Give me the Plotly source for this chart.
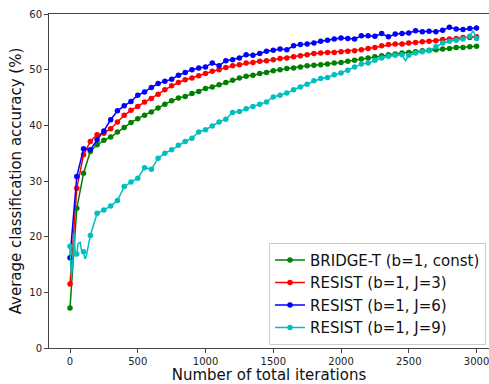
import plotly.graph_objects as go

ITER = list(range(0, 3001, 50))

BRIDGE_T = [7.2, 25.1, 31.4, 35.3, 36.5, 37.3, 37.9, 38.8, 39.6, 40.5,
            41.2, 41.8, 42.4, 43.1, 43.8, 44.4, 44.9, 45.2, 45.7, 46.1,
            46.6, 46.9, 47.3, 47.7, 48.1, 48.5, 48.8, 49.0, 49.3, 49.5,
            49.8, 50.0, 50.2, 50.3, 50.5, 50.7, 50.8, 50.9, 51.0, 51.2,
            51.3, 51.5, 51.7, 51.9, 52.1, 52.3, 52.5, 52.7, 52.8, 53.0,
            53.1, 53.2, 53.4, 53.5, 53.6, 53.7, 53.8, 54.0, 54.0, 54.1, 54.2]

RESIST_J3 = [11.5, 28.7, 34.7, 37.1, 38.3, 38.6, 39.4, 40.6, 41.8, 42.7,
             43.4, 44.2, 44.8, 45.6, 46.4, 47.1, 47.7, 48.2, 48.5, 48.9,
             49.3, 49.7, 50.0, 50.4, 50.7, 50.9, 51.2, 51.3, 51.5, 51.6,
             51.8, 52.0, 52.1, 52.3, 52.5, 52.7, 52.9, 53.0, 53.1, 53.1,
             53.2, 53.3, 53.4, 53.6, 53.8, 54.0, 54.3, 54.5, 54.6, 54.6,
             54.8, 54.9, 55.0, 55.1, 55.2, 55.4, 55.5, 55.6, 55.8, 55.8, 55.9]

RESIST_J6 = [16.2, 30.8, 35.8, 35.6, 37.4, 39.0, 41.0, 42.6, 43.5, 44.3,
             45.4, 46.0, 46.8, 47.5, 47.9, 48.3, 49.0, 49.5, 50.0, 50.3,
             50.5, 51.2, 50.7, 51.6, 51.8, 52.1, 52.7, 52.6, 52.9, 53.3,
             53.5, 53.7, 53.6, 54.3, 54.5, 54.6, 54.8, 55.1, 55.3, 55.5,
             55.7, 55.6, 55.5, 56.1, 56.1, 56.0, 56.5, 55.9, 56.4, 56.5,
             56.6, 57.0, 56.8, 56.9, 56.8, 57.1, 57.6, 57.3, 57.2, 57.4, 57.5]

RESIST_J9 = [18.3, 16.9, 17.3, 20.2, 24.2, 24.8, 25.5, 26.5, 29.0, 29.8,
             30.5, 32.4, 32.1, 34.1, 35.0, 35.6, 36.4, 37.1, 37.7, 38.8,
             39.2, 39.9, 40.6, 41.1, 42.3, 42.5, 43.0, 43.4, 43.8, 44.2,
             45.1, 45.4, 45.8, 46.4, 46.9, 47.4, 48.0, 48.4, 48.6, 49.1,
             49.4, 49.9, 50.5, 51.0, 51.2, 51.7, 52.1, 52.4, 52.6, 52.7,
             52.6, 53.0, 53.2, 53.4, 54.1, 54.8, 55.1, 55.3, 55.5, 56.0, 55.6]

# intermediate (unmarked) points of the J=9 run
J9_EXTRA_X = [10, 20, 30, 40, 60, 75, 85, 110, 120, 2475, 2975]
J9_EXTRA_Y = [13.0, 15.0, 20.6, 16.5, 18.8, 19.0, 17.5, 16.0, 16.5, 51.6, 57.0]

NAMES = ["BRIDGE-T (b=1, const)", "RESIST (b=1, J=3)",
         "RESIST (b=1, J=6)", "RESIST (b=1, J=9)"]
COLORS = ["#008000", "#ff0000", "#0000ff", "#00bfbf"]

MS = 5.5
fig = go.Figure()

series = [BRIDGE_T, RESIST_J3, RESIST_J6, RESIST_J9]
for i, (vals, name, col) in enumerate(zip(series, NAMES, COLORS)):
    if i < 3:
        fig.add_trace(go.Scatter(x=ITER, y=vals, name=name, mode="lines+markers",
                                 line=dict(color=col, width=1.5),
                                 marker=dict(color=col, size=MS)))
    else:
        pts = sorted(list(zip(ITER, vals)) + list(zip(J9_EXTRA_X, J9_EXTRA_Y)))
        fig.add_trace(go.Scatter(x=[p[0] for p in pts], y=[p[1] for p in pts],
                                 mode="lines", line=dict(color=col, width=1.5),
                                 showlegend=False, hoverinfo="skip"))
        fig.add_trace(go.Scatter(x=ITER, y=vals, mode="markers", name=name,
                                 marker=dict(color=col, size=MS), showlegend=False))
        fig.add_trace(go.Scatter(x=[None], y=[None], name=name, mode="lines+markers",
                                 line=dict(color=col, width=1.5),
                                 marker=dict(color=col, size=MS)))

axis_common = dict(showgrid=False, zeroline=False, showline=True,
                   linecolor="#444", linewidth=1, ticks="outside", ticklen=4,
                   tickcolor="#444", tickfont=dict(size=10, color="#222"),
                   ticklabeloverflow="allow")

fig.update_layout(
    width=489, height=384,
    margin=dict(l=49, r=0, t=14, b=36),
    paper_bgcolor="white", plot_bgcolor="white",
    font=dict(family="DejaVu Sans", color="#111"),
    xaxis=dict(range=[-155, 3092], tickvals=[0, 500, 1000, 1500, 2000, 2500, 3000],
               mirror=True,
               title=dict(text="Number of total iterations", font=dict(size=15), standoff=6),
               **axis_common),
    yaxis=dict(range=[0, 60], tickvals=[0, 10, 20, 30, 40, 50, 60],
               title=dict(text="Average classification accuracy (%)", font=dict(size=15), standoff=4),
               **axis_common),
    legend=dict(x=0.50, y=0.315, xanchor="left", yanchor="top",
                bgcolor="rgba(255,255,255,0.85)", bordercolor="#ccc", borderwidth=1,
                font=dict(size=15, color="#111"), tracegroupgap=0),
    showlegend=True,
)

fig.write_html("out.html")
